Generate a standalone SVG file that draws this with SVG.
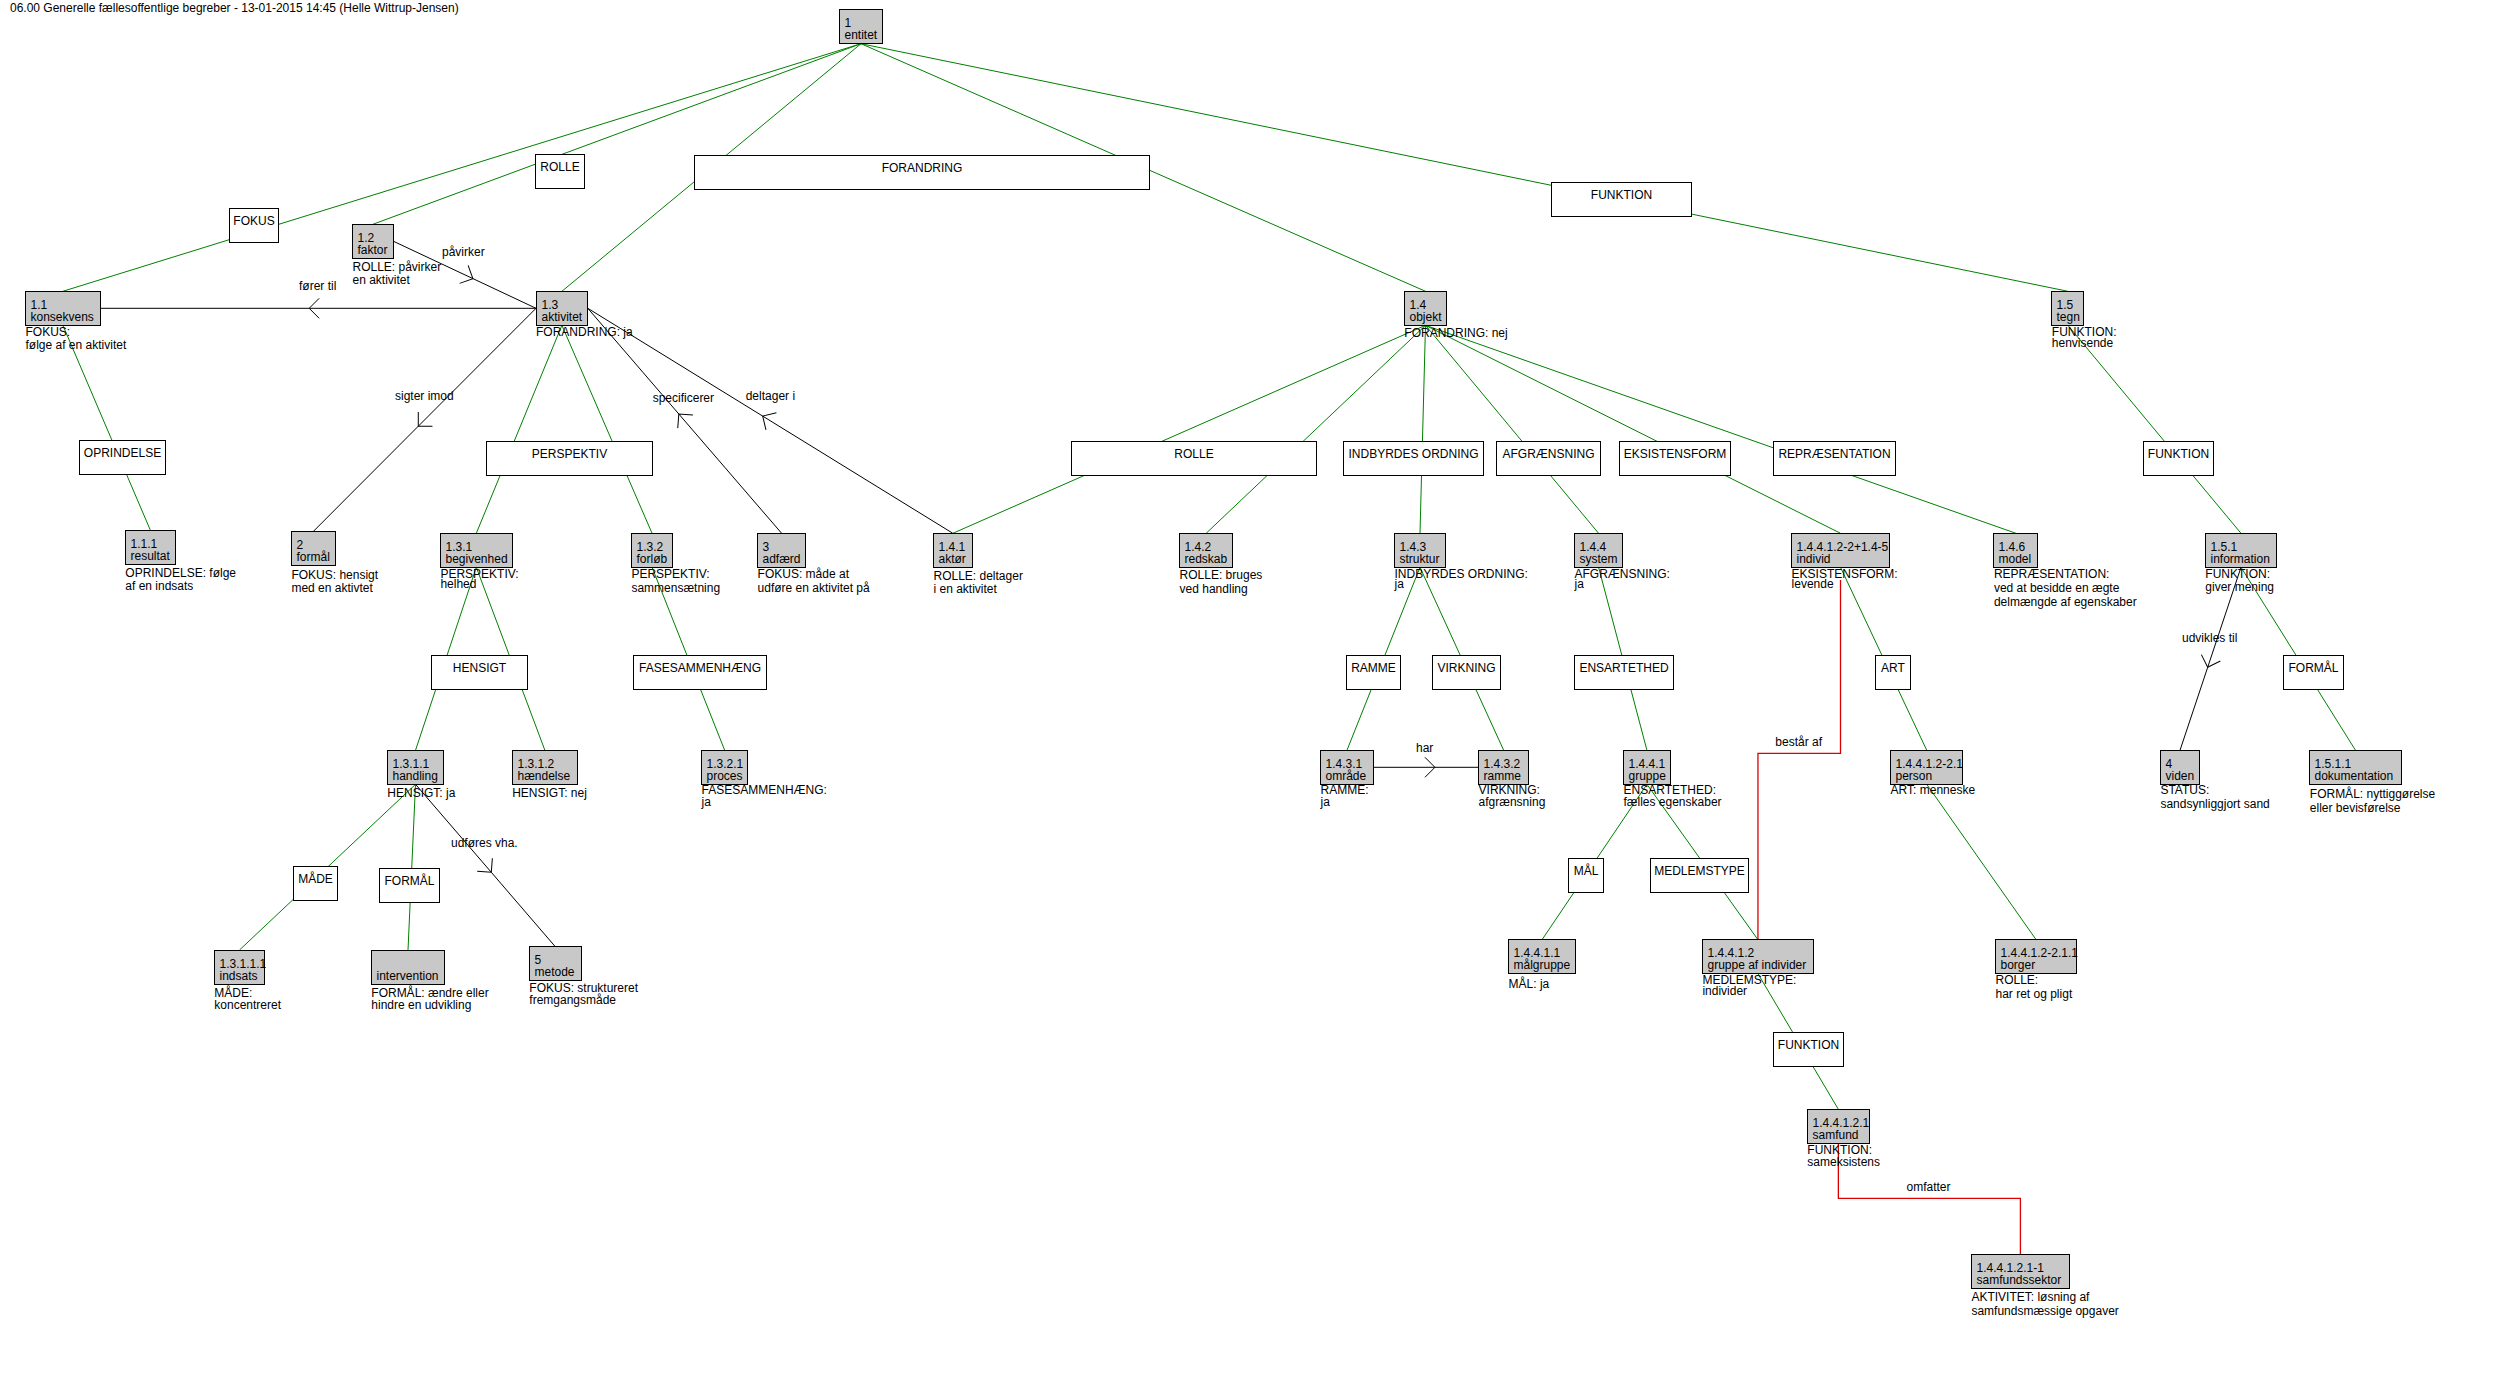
<svg xmlns="http://www.w3.org/2000/svg" width="2518" height="1377" viewBox="0 0 2518 1377">
<style>
text{font-family:"Liberation Sans",Arial,sans-serif;font-size:12px;fill:#000}
.n rect{fill:#c8c8c8;stroke:#000;stroke-width:1}
.c rect{fill:#fff;stroke:#000;stroke-width:1}
.c text{text-anchor:middle}
.g{stroke:#008000;stroke-width:1;fill:none}
.b{stroke:#000;stroke-width:1;fill:none;marker-mid:url(#arr)}
.r{stroke:#dd0000;stroke-width:1.3;fill:none}
</style>
<defs>
<marker id="arr" markerUnits="userSpaceOnUse" orient="auto" markerWidth="24" markerHeight="24" viewBox="-12 -12 24 24" refX="0" refY="0" overflow="visible">
<path d="M-10,-10 L0,0 L-10,10" fill="none" stroke="#000" stroke-width="1"/>
</marker>
</defs>
<rect x="0" y="0" width="2518" height="1377" fill="#fff"/>
<text id="title" x="10" y="12">06.00 Generelle fællesoffentlige begreber - 13-01-2015 14:45 (Helle Wittrup-Jensen)</text>

<g id="connectors">
<path class="g" d="M861,43.7 L62.85,291.3"/>
<path class="g" d="M861,43.7 L372.85,224.3"/>
<path class="g" d="M861,43.7 L561.9,291.3"/>
<path class="g" d="M861,43.7 L1425.5,291.3"/>
<path class="g" d="M861,43.7 L2067.9,291.3"/>
<path class="g" d="M62.85,325.3 L150.4,530.3"/>
<path class="g" d="M561.9,325.3 L476.3,533.3"/>
<path class="g" d="M561.9,325.3 L652.05,533.3"/>
<path class="g" d="M1425.5,325.3 L952.85,533.3"/>
<path class="g" d="M1425.5,325.3 L1206.15,533.3"/>
<path class="g" d="M1425.5,325.3 L1420,533.3"/>
<path class="g" d="M1425.5,325.3 L1598.6,533.3"/>
<path class="g" d="M1425.5,325.3 L1840.5,533.3"/>
<path class="g" d="M1425.5,325.3 L2015.95,533.3"/>
<path class="g" d="M2067.9,325.3 L2241,533.3"/>
<path class="g" d="M476.3,567.3 L415.5,750.3"/>
<path class="g" d="M476.3,567.3 L544.9,750.3"/>
<path class="g" d="M652.05,567.3 L724.7,750.3"/>
<path class="g" d="M1420,567.3 L1346.95,750.3"/>
<path class="g" d="M1420,567.3 L1503.7,750.3"/>
<path class="g" d="M1598.6,567.3 L1646.95,750.3"/>
<path class="g" d="M1840.5,567.3 L1926.75,750.3"/>
<path class="g" d="M2241,567.3 L2355.5,750.3"/>
<path class="g" d="M415.5,784.3 L239.5,950"/>
<path class="g" d="M415.5,784.3 L408,950"/>
<path class="g" d="M1646.95,784.3 L1542.05,939.7"/>
<path class="g" d="M1646.95,784.3 L1757.95,939.7"/>
<path class="g" d="M1757.95,973.7 L1838.35,1109.3"/>
<path class="g" d="M1926.75,784.3 L2036.1,939.7"/>

<path class="b" d="M393.5,241.3 L472.9,278.6 L536,308.3"/>
<path class="b" d="M536,308.3 L309.2,308.3 L100.4,308.3"/>
<path class="b" d="M536,308.3 L418.3,426.2 L313.45,531.3"/>
<path class="b" d="M781.65,533.3 L678.8,414 L587.8,308.3"/>
<path class="b" d="M952.85,533.3 L762.7,416.1 L587.8,308.3"/>
<path class="b" d="M415.5,784.3 L491.3,872.3 L555.3,946.7"/>
<path class="b" d="M1373.3,767.3 L1434.95,767.3 L1478.6,767.3"/>
<path class="b" d="M2241,567.3 L2207.7,667.3 L2180,750.3"/>

<path class="r" d="M1840.5,580 V753.3 H1757.95 V939.7"/>
<path class="r" d="M1838.35,1143.3 V1198.3 H2020.4 V1254.7"/>

<text x="442" y="256">påvirker</text>
<text x="299" y="290">fører til</text>
<text x="395" y="400">sigter imod</text>
<text x="652.7" y="401.7">specificerer</text>
<text x="745.7" y="400">deltager i</text>
<text x="451" y="847.3">udføres vha.</text>
<text x="1416" y="751.7">har</text>
<text x="2182" y="641.7">udvikles til</text>
<text x="1775.3" y="746">består af</text>
<text x="1906.5" y="1191">omfatter</text>
</g>

<!-- category boxes -->
<g id="c-fokus" class="c"><rect x="229.5" y="208.5" width="49" height="34"/><text x="254" y="225">FOKUS</text></g>
<g id="c-rolle-1" class="c"><rect x="535.5" y="154.5" width="49" height="34"/><text x="560" y="171">ROLLE</text></g>
<g id="c-forandring" class="c"><rect x="694.5" y="155.5" width="455" height="34"/><text x="922" y="172">FORANDRING</text></g>
<g id="c-funktion-1" class="c"><rect x="1551.5" y="182.5" width="140" height="34"/><text x="1621.5" y="199">FUNKTION</text></g>
<g id="c-oprindelse" class="c"><rect x="79.5" y="440.5" width="86" height="34"/><text x="122.5" y="457">OPRINDELSE</text></g>
<g id="c-perspektiv" class="c"><rect x="486.5" y="441.5" width="166" height="34"/><text x="569.5" y="458">PERSPEKTIV</text></g>
<g id="c-rolle-2" class="c"><rect x="1071.5" y="441.5" width="245" height="34"/><text x="1194" y="458">ROLLE</text></g>
<g id="c-indbyrdes" class="c"><rect x="1343.5" y="441.5" width="140" height="34"/><text x="1413.5" y="458">INDBYRDES ORDNING</text></g>
<g id="c-afgraensning" class="c"><rect x="1496.5" y="441.5" width="104" height="34"/><text x="1548.5" y="458">AFGRÆNSNING</text></g>
<g id="c-eksistensform" class="c"><rect x="1619.5" y="441.5" width="111" height="34"/><text x="1675" y="458">EKSISTENSFORM</text></g>
<g id="c-repraesentation" class="c"><rect x="1773.5" y="441.5" width="122" height="34"/><text x="1834.5" y="458">REPRÆSENTATION</text></g>
<g id="c-funktion-2" class="c"><rect x="2143.5" y="441.5" width="70" height="34"/><text x="2178.5" y="458">FUNKTION</text></g>
<g id="c-hensigt" class="c"><rect x="431.5" y="655.5" width="96" height="34"/><text x="479.5" y="672">HENSIGT</text></g>
<g id="c-fasesammenhaeng" class="c"><rect x="633.5" y="655.5" width="133" height="34"/><text x="700" y="672">FASESAMMENHÆNG</text></g>
<g id="c-ramme" class="c"><rect x="1346.5" y="655.5" width="54" height="34"/><text x="1373.5" y="672">RAMME</text></g>
<g id="c-virkning" class="c"><rect x="1432.5" y="655.5" width="68" height="34"/><text x="1466.5" y="672">VIRKNING</text></g>
<g id="c-ensartethed" class="c"><rect x="1574.5" y="655.5" width="99" height="34"/><text x="1624" y="672">ENSARTETHED</text></g>
<g id="c-art" class="c"><rect x="1875.5" y="655.5" width="35" height="34"/><text x="1893" y="672">ART</text></g>
<g id="c-formaal-2" class="c"><rect x="2283.5" y="655.5" width="60" height="34"/><text x="2313.5" y="672">FORMÅL</text></g>
<g id="c-maade" class="c"><rect x="293.5" y="866.5" width="44" height="34"/><text x="315.5" y="883">MÅDE</text></g>
<g id="c-formaal-1" class="c"><rect x="379.5" y="868.5" width="60" height="34"/><text x="409.5" y="885">FORMÅL</text></g>
<g id="c-maal" class="c"><rect x="1568.5" y="858.5" width="35" height="34"/><text x="1586" y="875">MÅL</text></g>
<g id="c-medlemstype" class="c"><rect x="1650.5" y="858.5" width="98" height="34"/><text x="1699.5" y="875">MEDLEMSTYPE</text></g>
<g id="c-funktion-3" class="c"><rect x="1773.5" y="1032.5" width="70" height="34"/><text x="1808.5" y="1049">FUNKTION</text></g>

<!-- concept nodes -->
<g id="n-1" class="n"><rect x="839.5" y="9.5" width="43" height="34"/><text x="844.5" y="26.5">1</text><text x="844.5" y="38.5">entitet</text></g>
<g id="n-1-1" class="n"><rect x="25.5" y="291.5" width="75" height="34"/><text x="30.5" y="308.5">1.1</text><text x="30.5" y="320.5">konsekvens</text><text x="25.5" y="336">FOKUS:</text><text x="25.5" y="349">følge af en aktivitet</text></g>
<g id="n-1-2" class="n"><rect x="352.5" y="224.5" width="41" height="34"/><text x="357.5" y="241.5">1.2</text><text x="357.5" y="253.5">faktor</text><text x="352.5" y="271">ROLLE: påvirker</text><text x="352.5" y="283.7">en aktivitet</text></g>
<g id="n-1-3" class="n"><rect x="536.5" y="291.5" width="51" height="34"/><text x="541.5" y="308.5">1.3</text><text x="541.5" y="320.5">aktivitet</text><text x="536" y="336">FORANDRING: ja</text></g>
<g id="n-1-4" class="n"><rect x="1404.5" y="291.5" width="42" height="34"/><text x="1409.5" y="308.5">1.4</text><text x="1409.5" y="320.5">objekt</text><text x="1404.3" y="337.3">FORANDRING: nej</text></g>
<g id="n-1-5" class="n"><rect x="2051.5" y="291.5" width="32" height="34"/><text x="2056.5" y="308.5">1.5</text><text x="2056.5" y="320.5">tegn</text><text x="2051.8" y="336">FUNKTION:</text><text x="2051.8" y="346.7">henvisende</text></g>
<g id="n-1-1-1" class="n"><rect x="125.5" y="530.5" width="50" height="34"/><text x="130.5" y="547.5">1.1.1</text><text x="130.5" y="559.5">resultat</text><text x="125.3" y="576.7">OPRINDELSE: følge</text><text x="125.3" y="590">af en indsats</text></g>
<g id="n-2" class="n"><rect x="291.5" y="531.5" width="44" height="34"/><text x="296.5" y="548.5">2</text><text x="296.5" y="560.5">formål</text><text x="291.4" y="579">FOKUS: hensigt</text><text x="291.4" y="591.7">med en aktivtet</text></g>
<g id="n-1-3-1" class="n"><rect x="440.5" y="533.5" width="72" height="34"/><text x="445.5" y="550.5">1.3.1</text><text x="445.5" y="562.5">begivenhed</text><text x="440.4" y="577.7">PERSPEKTIV:</text><text x="440.4" y="588.3">helhed</text></g>
<g id="n-1-3-2" class="n"><rect x="631.5" y="533.5" width="41" height="34"/><text x="636.5" y="550.5">1.3.2</text><text x="636.5" y="562.5">forløb</text><text x="631.4" y="577.7">PERSPEKTIV:</text><text x="631.4" y="591.7">sammensætning</text></g>
<g id="n-3" class="n"><rect x="757.5" y="533.5" width="48" height="34"/><text x="762.5" y="550.5">3</text><text x="762.5" y="562.5">adfærd</text><text x="757.6" y="578.3">FOKUS: måde at</text><text x="757.6" y="592.3">udføre en aktivitet på</text></g>
<g id="n-1-4-1" class="n"><rect x="933.5" y="533.5" width="39" height="34"/><text x="938.5" y="550.5">1.4.1</text><text x="938.5" y="562.5">aktør</text><text x="933.5" y="580">ROLLE: deltager</text><text x="933.5" y="593.3">i en aktivitet</text></g>
<g id="n-1-4-2" class="n"><rect x="1179.5" y="533.5" width="53" height="34"/><text x="1184.5" y="550.5">1.4.2</text><text x="1184.5" y="562.5">redskab</text><text x="1179.6" y="579.3">ROLLE: bruges</text><text x="1179.6" y="593.3">ved handling</text></g>
<g id="n-1-4-3" class="n"><rect x="1394.5" y="533.5" width="51" height="34"/><text x="1399.5" y="550.5">1.4.3</text><text x="1399.5" y="562.5">struktur</text><text x="1394.5" y="577.7">INDBYRDES ORDNING:</text><text x="1394.5" y="588.3">ja</text></g>
<g id="n-1-4-4" class="n"><rect x="1574.5" y="533.5" width="48" height="34"/><text x="1579.5" y="550.5">1.4.4</text><text x="1579.5" y="562.5">system</text><text x="1574.5" y="577.7">AFGRÆNSNING:</text><text x="1574.5" y="588.3">ja</text></g>
<g id="n-individ" class="n"><rect x="1791.5" y="533.5" width="98" height="34"/><text x="1796.5" y="550.5">1.4.4.1.2-2+1.4-5</text><text x="1796.5" y="562.5">individ</text><text x="1791.6" y="577.7">EKSISTENSFORM:</text><text x="1791.6" y="588.3">levende</text></g>
<g id="n-1-4-6" class="n"><rect x="1993.5" y="533.5" width="44" height="34"/><text x="1998.5" y="550.5">1.4.6</text><text x="1998.5" y="562.5">model</text><text x="1993.9" y="577.7">REPRÆSENTATION:</text><text x="1993.9" y="591.7">ved at besidde en ægte</text><text x="1993.9" y="605.7">delmængde af egenskaber</text></g>
<g id="n-1-5-1" class="n"><rect x="2205.5" y="533.5" width="71" height="34"/><text x="2210.5" y="550.5">1.5.1</text><text x="2210.5" y="562.5">information</text><text x="2205.3" y="577.7">FUNKTION:</text><text x="2205.3" y="591">giver mening</text></g>
<g id="n-1-3-1-1" class="n"><rect x="387.5" y="750.5" width="56" height="34"/><text x="392.5" y="767.5">1.3.1.1</text><text x="392.5" y="779.5">handling</text><text x="387.3" y="796.7">HENSIGT: ja</text></g>
<g id="n-1-3-1-2" class="n"><rect x="512.5" y="750.5" width="65" height="34"/><text x="517.5" y="767.5">1.3.1.2</text><text x="517.5" y="779.5">hændelse</text><text x="512.2" y="796.7">HENSIGT: nej</text></g>
<g id="n-1-3-2-1" class="n"><rect x="701.5" y="750.5" width="46" height="34"/><text x="706.5" y="767.5">1.3.2.1</text><text x="706.5" y="779.5">proces</text><text x="701.6" y="794.3">FASESAMMENHÆNG:</text><text x="701.6" y="806">ja</text></g>
<g id="n-1-4-3-1" class="n"><rect x="1320.5" y="750.5" width="53" height="34"/><text x="1325.5" y="767.5">1.4.3.1</text><text x="1325.5" y="779.5">område</text><text x="1320.6" y="794.3">RAMME:</text><text x="1320.6" y="806">ja</text></g>
<g id="n-1-4-3-2" class="n"><rect x="1478.5" y="750.5" width="50" height="34"/><text x="1483.5" y="767.5">1.4.3.2</text><text x="1483.5" y="779.5">ramme</text><text x="1478.6" y="794.3">VIRKNING:</text><text x="1478.6" y="806">afgrænsning</text></g>
<g id="n-1-4-4-1" class="n"><rect x="1623.5" y="750.5" width="47" height="34"/><text x="1628.5" y="767.5">1.4.4.1</text><text x="1628.5" y="779.5">gruppe</text><text x="1623.5" y="794.3">ENSARTETHED:</text><text x="1623.5" y="806">fælles egenskaber</text></g>
<g id="n-person" class="n"><rect x="1890.5" y="750.5" width="72" height="34"/><text x="1895.5" y="767.5">1.4.4.1.2-2.1</text><text x="1895.5" y="779.5">person</text><text x="1890.6" y="794.3">ART: menneske</text></g>
<g id="n-4" class="n"><rect x="2160.5" y="750.5" width="39" height="34"/><text x="2165.5" y="767.5">4</text><text x="2165.5" y="779.5">viden</text><text x="2160.4" y="794.3">STATUS:</text><text x="2160.4" y="808.3">sandsynliggjort sand</text></g>
<g id="n-1-5-1-1" class="n"><rect x="2309.5" y="750.5" width="92" height="34"/><text x="2314.5" y="767.5">1.5.1.1</text><text x="2314.5" y="779.5">dokumentation</text><text x="2309.8" y="798.3">FORMÅL: nyttiggørelse</text><text x="2309.8" y="812.3">eller bevisførelse</text></g>
<g id="n-1-3-1-1-1" class="n"><rect x="214.5" y="950.5" width="50" height="34"/><text x="219.5" y="967.5">1.3.1.1.1</text><text x="219.5" y="979.5">indsats</text><text x="214.3" y="996.7">MÅDE:</text><text x="214.3" y="1009">koncentreret</text></g>
<g id="n-intervention" class="n"><rect x="371.5" y="950.5" width="73" height="34"/><text x="376.5" y="979.5">intervention</text><text x="371.3" y="996.7">FORMÅL: ændre eller</text><text x="371.3" y="1009.3">hindre en udvikling</text></g>
<g id="n-5" class="n"><rect x="529.5" y="946.5" width="52" height="34"/><text x="534.5" y="963.5">5</text><text x="534.5" y="975.5">metode</text><text x="529.3" y="991.7">FOKUS: struktureret</text><text x="529.3" y="1004">fremgangsmåde</text></g>
<g id="n-1-4-4-1-1" class="n"><rect x="1508.5" y="939.5" width="67" height="34"/><text x="1513.5" y="956.5">1.4.4.1.1</text><text x="1513.5" y="968.5">målgruppe</text><text x="1508.6" y="987.7">MÅL: ja</text></g>
<g id="n-1-4-4-1-2" class="n"><rect x="1702.5" y="939.5" width="111" height="34"/><text x="1707.5" y="956.5">1.4.4.1.2</text><text x="1707.5" y="968.5">gruppe af individer</text><text x="1702.4" y="984">MEDLEMSTYPE:</text><text x="1702.4" y="994.7">individer</text></g>
<g id="n-borger" class="n"><rect x="1995.5" y="939.5" width="81" height="34"/><text x="2000.5" y="956.5">1.4.4.1.2-2.1.1</text><text x="2000.5" y="968.5">borger</text><text x="1995.5" y="984">ROLLE:</text><text x="1995.5" y="997.7">har ret og pligt</text></g>
<g id="n-1-4-4-1-2-1" class="n"><rect x="1807.5" y="1109.5" width="62" height="34"/><text x="1812.5" y="1126.5">1.4.4.1.2.1</text><text x="1812.5" y="1138.5">samfund</text><text x="1807.3" y="1154">FUNKTION:</text><text x="1807.3" y="1166">sameksistens</text></g>
<g id="n-samfundssektor" class="n"><rect x="1971.5" y="1254.5" width="98" height="34"/><text x="1976.5" y="1271.5">1.4.4.1.2.1-1</text><text x="1976.5" y="1283.5">samfundssektor</text><text x="1971.4" y="1300.7">AKTIVITET: løsning af</text><text x="1971.4" y="1315">samfundsmæssige opgaver</text></g>
</svg>
